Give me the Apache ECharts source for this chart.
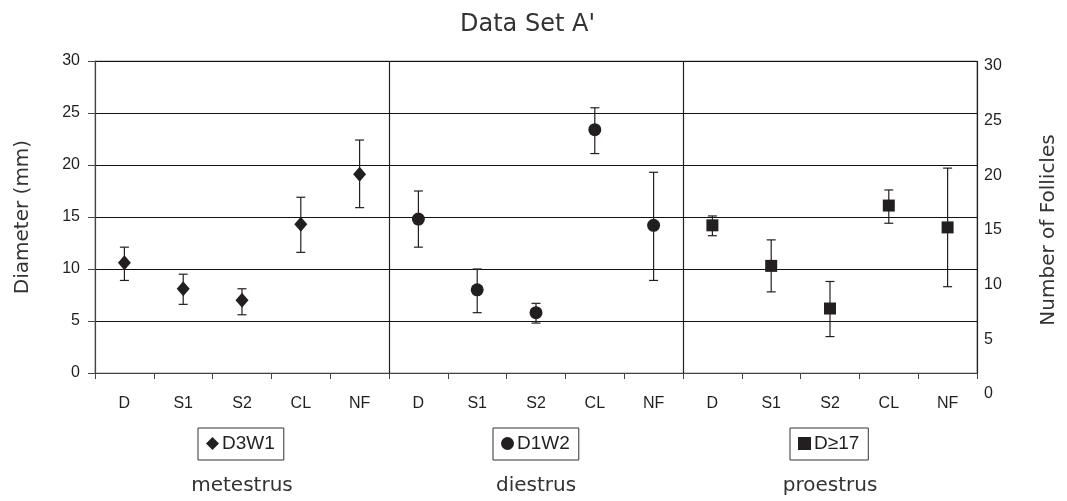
<!DOCTYPE html>
<html>
<head>
<meta charset="utf-8">
<script src="https://cdn.jsdelivr.net/npm/echarts@6/dist/echarts.min.js"></script>
<style>
html,body{margin:0;padding:0;background:#fff;}
#chart{width:1067px;height:501px;}
</style>
</head>
<body>
<div id="chart"></div>
<script>
// ---- data ----
const stages = ['D', 'S1', 'S2', 'CL', 'NF'];
const groupNames = ['metestrus', 'diestrus', 'proestrus'];
const seriesNames = ['D3W1', 'D1W2', 'D\u226517'];
const yTicks = [0, 5, 10, 15, 20, 25, 30];

const d3w1Mean = [10.6, 8.1, 7.0, 14.3, 19.1];
const d3w1Low  = [8.9, 6.6, 5.6, 11.6, 15.9];
const d3w1High = [12.1, 9.5, 8.1, 16.9, 22.4];

const d1w2Mean = [14.8, 8.0, 5.8, 23.4, 14.2];
const d1w2Low  = [12.1, 5.8, 4.8, 21.1, 8.9];
const d1w2High = [17.5, 10.0, 6.7, 25.5, 19.3];

const d17Mean = [14.2, 10.3, 6.2, 16.1, 14.0];
const d17Low  = [13.2, 7.8, 3.5, 14.4, 8.3];
const d17High = [15.1, 12.8, 8.8, 17.6, 19.7];

// ---- build ----
const categories = [];
groupNames.forEach(() => stages.forEach(s => categories.push(s)));

const means = [d3w1Mean, d1w2Mean, d17Mean];
const lows = [d3w1Low, d1w2Low, d17Low];
const highs = [d3w1High, d1w2High, d17High];
const symbols = ['diamond', 'circle', 'rect'];
const symbolSizes = [[13, 15], 13, 12];

const ink = '#231f20';
const gothic = '"DejaVu Sans", sans-serif';
const arial = '"Liberation Sans", Arial, sans-serif';

const series = [];
means.forEach((m, g) => {
  const errData = m.map((v, i) => [g * stages.length + i, lows[g][i], highs[g][i]]);
  series.push({
    type: 'custom',
    name: seriesNames[g] + ' err',
    xAxisIndex: 0, yAxisIndex: 0,
    z: 2,
    silent: true,
    renderItem: function (params, api) {
      const x = api.value(0);
      const lo = api.coord([x, api.value(1)]);
      const hi = api.coord([x, api.value(2)]);
      const w = 4.5;
      const st = { stroke: ink, lineWidth: 1.2 };
      return {
        type: 'group',
        children: [
          { type: 'line', shape: { x1: lo[0], y1: lo[1], x2: hi[0], y2: hi[1] }, style: st },
          { type: 'line', shape: { x1: hi[0] - w, y1: hi[1], x2: hi[0] + w, y2: hi[1] }, style: st },
          { type: 'line', shape: { x1: lo[0] - w, y1: lo[1], x2: lo[0] + w, y2: lo[1] }, style: st }
        ]
      };
    },
    encode: { x: 0, y: [1, 2] },
    data: errData
  });
  series.push({
    type: 'scatter',
    name: seriesNames[g],
    xAxisIndex: 0, yAxisIndex: 0,
    z: 3,
    symbol: symbols[g],
    symbolSize: symbolSizes[g],
    itemStyle: { color: ink, opacity: 1 },
    data: m.map((v, i) => [g * stages.length + i, v])
  });
});

const legendLefts = [198, 493, 790];
const legends = seriesNames.map((n, g) => ({
  data: [n],
  left: legendLefts[g],
  top: 428,
  orient: 'horizontal',
  borderColor: '#333',
  borderWidth: 1,
  padding: [6, 9, 7, 8],
  itemWidth: 13,
  itemHeight: 13,
  itemGap: 4,
  selectedMode: false,
  textStyle: { fontFamily: arial, fontSize: 19, color: ink, padding: [0, 0, 0, -2] }
}));

const chart = echarts.init(document.getElementById('chart'), null, { renderer: 'canvas' });
chart.setOption({
  animation: false,
  backgroundColor: '#fff',
  title: {
    text: "Data Set A'",
    left: 455,
    top: 8,
    textStyle: { fontFamily: gothic, fontSize: 24, fontWeight: 'normal', color: '#333' }
  },
  legend: legends,
  grid: [
    { left: 95, right: 90, top: 61, bottom: 128, show: true, borderColor: '#999', borderWidth: 1 },
    { left: 95, right: 90, top: 66, bottom: 107 }
  ],
  xAxis: [
    {
      type: 'category', gridIndex: 0, data: categories, boundaryGap: true,
      axisLine: { show: true, lineStyle: { color: '#444', width: 1.2 } },
      axisTick: { show: true, interval: 0, length: 6, lineStyle: { color: '#444' } },
      axisLabel: { interval: 0, margin: 23, fontFamily: arial, fontSize: 16, color: ink },
      splitLine: {
        show: true,
        interval: function (index) { return index % stages.length === 0 && index > 0; },
        lineStyle: { color: '#222', width: 1.2 }
      }
    },
    {
      type: 'category', gridIndex: 0, data: groupNames, position: 'bottom', offset: 101,
      axisLine: { show: false }, axisTick: { show: false }, splitLine: { show: false },
      axisLabel: { interval: 0, margin: 2, fontFamily: gothic, fontSize: 20, color: '#333' }
    },
    {
      type: 'category', gridIndex: 1, data: categories, show: false
    }
  ],
  yAxis: [
    {
      type: 'value', gridIndex: 0, min: yTicks[0], max: yTicks[yTicks.length - 1], interval: 5,
      name: 'Diameter (mm)', nameLocation: 'middle', nameGap: 62, nameRotate: 90,
      nameTextStyle: { fontFamily: gothic, fontSize: 20, color: '#333' },
      axisLine: { show: true, lineStyle: { color: '#444', width: 1.2 } },
      axisTick: { show: true, length: 7, lineStyle: { color: '#444' } },
      axisLabel: { margin: 15, fontFamily: arial, fontSize: 16, color: ink },
      splitLine: { show: true, lineStyle: { color: '#111', width: 1.2 } }
    },
    {
      type: 'value', gridIndex: 1, position: 'right', min: yTicks[0], max: yTicks[yTicks.length - 1], interval: 5,
      name: 'Number of Follicles', nameLocation: 'middle', nameGap: 69, nameRotate: 90,
      nameTextStyle: { fontFamily: gothic, fontSize: 20, color: '#333' },
      axisLine: { show: false }, axisTick: { show: false },
      axisLabel: { margin: 14, fontFamily: arial, fontSize: 16, color: ink },
      splitLine: { show: false }
    }
  ],
  series: series
});
</script>
</body>
</html>
